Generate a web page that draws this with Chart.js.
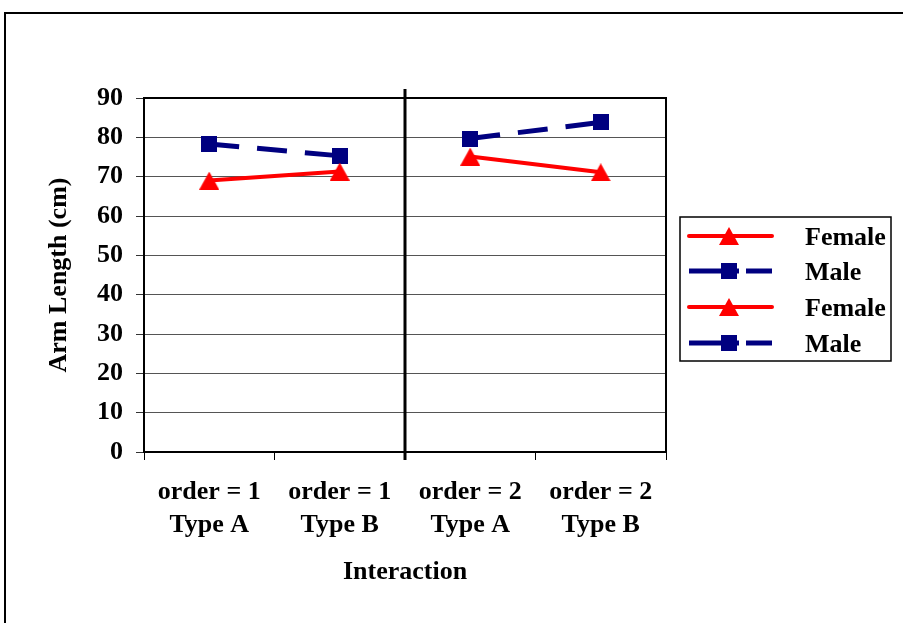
<!DOCTYPE html>
<html><head><meta charset="utf-8">
<script src="https://cdn.jsdelivr.net/npm/chart.js@4.4.0/dist/chart.umd.min.js"></script>
<style>html,body{margin:0;padding:0;background:#fff;overflow:hidden}#wrap{width:903px;height:623px;position:relative}</style>
</head><body><div id="wrap"><canvas id="c" width="903" height="623"></canvas></div>
<script>
// ---- data ----
const categories = [['order = 1','Type A'],['order = 1','Type B'],['order = 2','Type A'],['order = 2','Type B']];
const femaleOrder1 = [69.0, 71.3, null, null];
const maleOrder1   = [78.3, 75.3, null, null];
const femaleOrder2 = [null, null, 75.1, 71.1];
const maleOrder2   = [null, null, 79.7, 83.8];
const seriesNames  = ['Female', 'Male', 'Female', 'Male'];
const yMin = 0, yMax = 90, yStep = 10;
const yTitle = 'Arm Length (cm)';
const xTitle = 'Interaction';

// ---- styles ----
const FONT = "'Liberation Serif', 'Times New Roman', serif";
const RED = '#FF0000', NAVY = '#000080';
function triImg(color){ const c=document.createElement('canvas'); c.width=20; c.height=18; const g=c.getContext('2d'); g.fillStyle=color; g.beginPath(); g.moveTo(10,0); g.lineTo(20,18); g.lineTo(0,18); g.closePath(); g.fill(); return c; }
function sqImg(color){ const c=document.createElement('canvas'); c.width=16; c.height=16; const g=c.getContext('2d'); g.fillStyle=color; g.fillRect(0,0,16,16); return c; }
const TRI = triImg(RED), SQ = sqImg(NAVY);

function femaleStyle(){ return {borderColor:RED, backgroundColor:RED, borderWidth:4, borderCapStyle:'round', pointStyle:TRI, pointRadius:9}; }
function maleStyle(){ return {borderColor:NAVY, backgroundColor:NAVY, borderWidth:5, borderDash:[30,18], borderCapStyle:'butt', pointStyle:SQ, pointRadius:8}; }

const datasets = [
  Object.assign({label:seriesNames[0], data:femaleOrder1}, femaleStyle()),
  Object.assign({label:seriesNames[1], data:maleOrder1}, maleStyle()),
  Object.assign({label:seriesNames[2], data:femaleOrder2}, femaleStyle()),
  Object.assign({label:seriesNames[3], data:maleOrder2}, maleStyle())
];

const framePlugin = {
  id:'frame',
  beforeDraw(chart){
    const ctx=chart.ctx; ctx.save();
    ctx.fillStyle='#fff'; ctx.fillRect(0,0,chart.width,chart.height);
    ctx.strokeStyle='#000'; ctx.lineWidth=2; ctx.strokeRect(5,13,chart.width+40,chart.height+40);
    ctx.restore();
  },
  beforeDatasetsDraw(chart){
    const ctx=chart.ctx; const {left,right,top,bottom}=chart.chartArea;
    ctx.save(); ctx.strokeStyle='#000'; ctx.lineWidth=2;
    ctx.strokeRect(left,top,right-left,bottom-top);
    const xs=chart.scales.x; const xd=(xs.getPixelForValue(1)+xs.getPixelForValue(2))/2;
    ctx.lineWidth=3; ctx.beginPath(); ctx.moveTo(xd,top-9); ctx.lineTo(xd,bottom+8); ctx.stroke();
    ctx.restore();
  },
  afterDraw(chart){
    const ctx=chart.ctx; ctx.save();
    const bx=680, by=217, bw=211, bh=144;
    ctx.strokeStyle='#000'; ctx.lineWidth=1.5; ctx.strokeRect(bx,by,bw,bh);
    const rows=[236,271,307,343];
    chart.data.datasets.forEach((ds,i)=>{
      const y=rows[i];
      ctx.save();
      ctx.strokeStyle=ds.borderColor; ctx.lineWidth=ds.borderWidth; ctx.lineCap=ds.borderCapStyle;
      if(ds.borderDash && ds.borderDash.length){ ctx.setLineDash([50,7]); }
      ctx.beginPath(); ctx.moveTo(689,y); ctx.lineTo(772,y); ctx.stroke();
      ctx.restore();
      const img=ds.pointStyle; ctx.drawImage(img, 729-img.width/2, y-img.height/2);
      ctx.fillStyle='#000'; ctx.font="bold 26px "+FONT; ctx.textBaseline='middle'; ctx.textAlign='left';
      ctx.fillText(ds.label, 805, y+2);
    });
    ctx.restore();
  }
};

new Chart(document.getElementById('c'), {
  type:'line',
  data:{labels:categories, datasets},
  options:{
    responsive:false, animation:false, devicePixelRatio:1,
    layout:{padding:{top:98,right:237,bottom:0,left:0}},
    plugins:{legend:{display:false}, tooltip:{enabled:false}},
    scales:{
      x:{
        type:'category', offset:true,
        grid:{offset:true, drawOnChartArea:false, drawTicks:true, tickLength:8, color:'#000', lineWidth:1},
        border:{color:'#000', width:2},
        ticks:{color:'#000', font:{family:FONT, size:26, weight:'bold', lineHeight:1.27}, padding:16, maxRotation:0, autoSkip:false},
        title:{display:true, text:xTitle, color:'#000', font:{family:FONT, size:26, weight:'bold'}, padding:{top:0,bottom:35}},
        afterFit(s){ s.height=171; }
      },
      y:{
        min:yMin, max:yMax,
        grid:{color:'#555', lineWidth:1, tickLength:8, tickColor:'#333'},
        border:{color:'#000', width:2},
        ticks:{stepSize:yStep, color:'#000', font:{family:FONT, size:26, weight:'bold'}, padding:13},
        title:{display:true, text:yTitle, color:'#000', font:{family:FONT, size:26, weight:'bold'}, padding:{top:44,bottom:0}},
        afterFit(s){ s.width=144; }
      }
    }
  },
  plugins:[framePlugin]
});
</script>
</body></html>
